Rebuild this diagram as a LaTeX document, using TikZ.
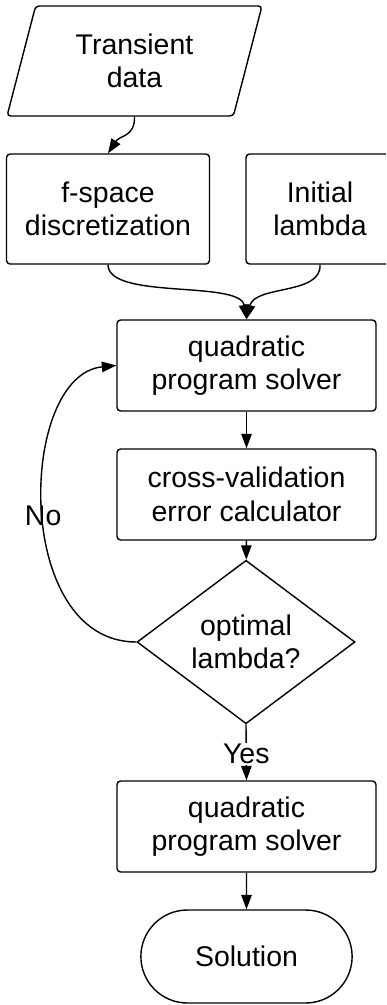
\documentclass[tikz,border=0pt]{standalone}
\usepackage{fontspec}
\setmainfont{Liberation Sans}
\usetikzlibrary{arrows.meta, positioning, shapes.geometric, shapes.misc}
\definecolor{flowInk}{HTML}{000000}
\tikzset{
  arrowK/.style={-{Triangle[length=2.9mm, width=2.1mm]}, flowInk, line width=0.8pt},
  boxStep/.style={rectangle, rounded corners=2pt, draw=flowInk, line width=0.8pt,
                  align=center, inner sep=2pt, minimum width=5.18cm, minimum height=1.82cm},
  boxSide/.style={rectangle, rounded corners=2pt, draw=flowInk, line width=0.8pt,
                  align=center, inner sep=2pt, minimum height=2.2cm},
  boxInput/.style={trapezium, trapezium left angle=65, trapezium right angle=115,
                   trapezium stretches body=true, rounded corners=2pt, draw=flowInk,
                   line width=0.8pt, align=center, inner sep=2pt,
                   minimum width=5.1cm, minimum height=2.2cm},
  boxDecide/.style={diamond, draw=flowInk, line width=0.8pt, align=center,
                    inner sep=0pt, minimum width=4.36cm, minimum height=2.56cm},
  boxEnd/.style={rounded rectangle, draw=flowInk, line width=0.8pt, align=center,
                 minimum width=4.46cm, minimum height=1.86cm},
}

\begin{document}
\begin{tikzpicture}[x=0.02cm, y=-0.02cm, font=\fontsize{16.2}{19}\selectfont]
    \useasboundingbox (0,0) rectangle (386,1005);
    \clip (0,0) rectangle (386,1005);

    % inputs
    \node[boxInput] (src) at (134.5,61) {Transient\\data};
    \node[boxSide, minimum width=4.06cm] (fsp) at (108,209) {f-space\\discretization};
    \node[boxSide, minimum width=2.96cm] (lam) at (320,209) {Initial\\lambda};

    % main loop
    \node[boxStep] (qp) at (246.5,365.5) {quadratic\\program solver};
    \node[boxStep] (cv) at (246.5,494.5) {cross-validation\\error calculator};
    \node[boxDecide] (dia) at (246,642) {optimal\\lambda?};

    % final solve
    \node[boxStep] (qpFinal) at (246.5,826.5) {quadratic\\program solver};
    \node[boxEnd] (sol) at (246.5,956.5) {Solution};

    \draw[arrowK] (src.south) .. controls (135,137) and (120,135) .. (fsp.north);
    \draw[arrowK] (fsp.south) .. controls (108,300) and (240,280) .. (qp.north);
    \draw[arrowK] (lam.south) .. controls (322,295) and (255,285) .. (qp.north);
    \draw[arrowK] (qp) -- (cv);
    \draw[arrowK] (cv) -- (dia);
    \draw[arrowK] (dia.west) .. controls (12,642) and (18,375) ..
        node[pos=0.48] (noLbl) {No} (qp.west);
    \draw[arrowK] (dia.south) -- node[fill=white, inner sep=0.5pt, pos=0.53] (yesLbl) {Yes} (qpFinal.north);
    \draw[arrowK] (qpFinal) -- (sol);
\end{tikzpicture}
\end{document}
